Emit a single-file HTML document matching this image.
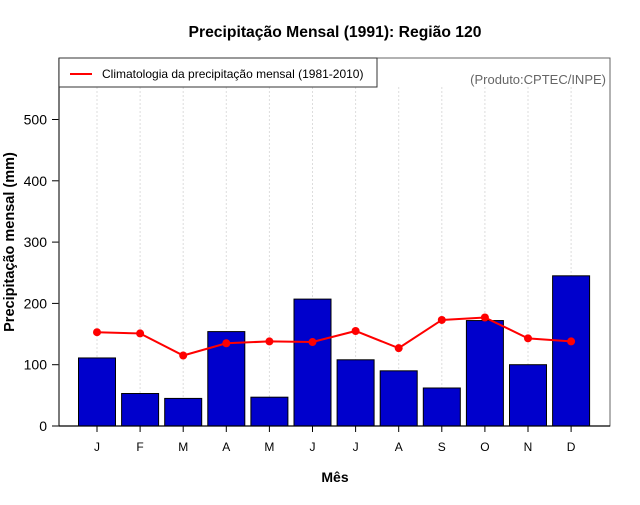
<!DOCTYPE html>
<html><head><meta charset="utf-8"><style>
body{margin:0;background:#fff;}
svg{font-family:"Liberation Sans",sans-serif;}
</style></head><body>
<svg id="chart" width="640" height="500">
<text x="335" y="37" text-anchor="middle" font-size="15.7" font-weight="bold">Precipitação Mensal (1991): Região 120</text>
<rect x="59" y="58" width="551" height="368" fill="none" stroke="#666" stroke-width="1"/>
<g id="grid"></g><g id="bars"></g><g id="line"></g><g id="axes"></g>
<line x1="59" y1="58" x2="59" y2="426" stroke="#333" stroke-width="1.3"/>
<line x1="59" y1="426" x2="610" y2="426" stroke="#000" stroke-width="1.3"/>
<rect x="59" y="58" width="318" height="29" fill="#fff" stroke="#333"/>
<line x1="70" y1="74" x2="92" y2="74" stroke="red" stroke-width="2"/>
<text x="102" y="78" font-size="12">Climatologia da precipitação mensal (1981-2010)</text>
<text x="606" y="84" text-anchor="end" font-size="13" fill="#666">(Produto:CPTEC/INPE)</text>
<text x="335" y="482" text-anchor="middle" font-size="14" font-weight="bold">Mês</text>
<text transform="translate(14,242) rotate(-90)" text-anchor="middle" font-size="14.5" font-weight="bold">Precipitação mensal (mm)</text>
</svg>
<script>
const months=["J","F","M","A","M","J","J","A","S","O","N","D"];
const observed=[111,53,45,154,47,207,108,90,62,172,100,245];
const climatology=[153,151,115,135,138,137,155,127,173,177,143,138];
const yTicks=[0,100,200,300,400,500];
const NS="http://www.w3.org/2000/svg";
const x=i=>97+i*43.1;
const y=v=>426-v*0.613;
function mk(t,a,p){const e=document.createElementNS(NS,t);for(const k in a)e.setAttribute(k,a[k]);document.getElementById(p).appendChild(e);return e;}
months.forEach((m,i)=>{
 const g=mk("line",{x1:x(i),x2:x(i),y1:87,y2:426,stroke:"#ddd","stroke-dasharray":"2,2"},"grid");
 
 
 const b=mk("rect",{x:x(i)-18.5,y:y(observed[i]),width:37,height:426-y(observed[i]),fill:"#0000cc",stroke:"#000","stroke-width":1},"bars");
 
 
 const t=mk("line",{x1:x(i),x2:x(i),y1:426,y2:432,stroke:"#000"},"axes");
 
 
 const l=mk("text",{x:x(i),y:451,"text-anchor":"middle","font-size":12},"axes");l.textContent=m;
 
 
});
const pl=mk("polyline",{points:climatology.map((v,i)=>x(i)+","+y(v)).join(" "),fill:"none",stroke:"red","stroke-width":2},"line");


climatology.forEach((v,i)=>{const c=mk("circle",{cx:x(i),cy:y(v),r:4,fill:"red"},"line");
 
 });
yTicks.forEach(v=>{
 const t=mk("line",{x1:52,x2:59,y1:y(v),y2:y(v),stroke:"#000"},"axes");
 
 
 const l=mk("text",{x:47,y:y(v)+5,"text-anchor":"end","font-size":14},"axes");l.textContent=v;
 
 
});
</script>
</body></html>
